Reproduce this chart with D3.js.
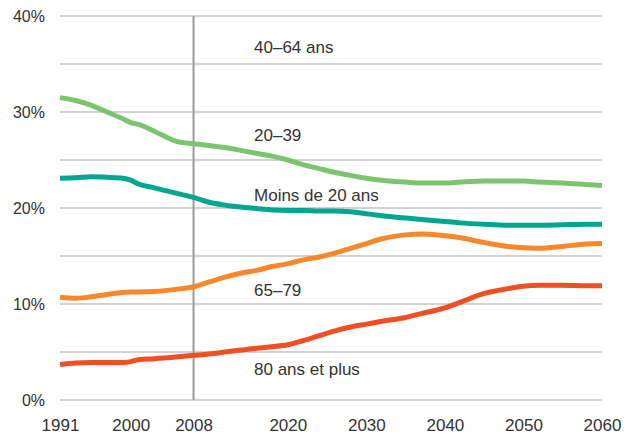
<!DOCTYPE html>
<html>
<head>
<meta charset="utf-8">
<script src="https://cdn.jsdelivr.net/npm/d3@7"></script>
<style>
html,body{margin:0;padding:0;background:#fff;}
svg{display:block;font-family:"Liberation Sans",Arial,sans-serif;}
</style>
</head>
<body>
<svg id="chart" width="634" height="435"></svg>
<script>
const years = [1991,1993,1995,1997,1999,2000,2001,2003,2006,2008,2010,2012,2014,2016,2018,2020,2022,2024,2026,2028,2030,2032,2035,2037,2040,2042,2045,2048,2050,2052,2055,2058,2060];

const age20to39 = [31.5,31.2,30.7,30.0,29.3,28.9,28.7,28.0,26.9,26.7,26.5,26.3,26.0,25.7,25.4,25.0,24.5,24.1,23.7,23.4,23.1,22.9,22.7,22.6,22.6,22.7,22.8,22.8,22.8,22.7,22.6,22.45,22.35];
const under20 = [23.1,23.15,23.25,23.2,23.1,22.9,22.5,22.1,21.5,21.1,20.6,20.3,20.1,19.95,19.8,19.75,19.75,19.7,19.7,19.6,19.4,19.2,18.95,18.8,18.6,18.45,18.3,18.2,18.2,18.2,18.25,18.3,18.3];
const age65to79 = [10.7,10.6,10.75,11.0,11.2,11.25,11.25,11.3,11.55,11.8,12.3,12.8,13.2,13.5,13.9,14.2,14.6,14.9,15.3,15.8,16.3,16.8,17.2,17.3,17.1,16.9,16.4,16.0,15.85,15.8,16.0,16.25,16.3];
const age80plus = [3.7,3.85,3.9,3.9,3.9,4.0,4.2,4.3,4.5,4.65,4.8,5.0,5.2,5.4,5.55,5.75,6.2,6.7,7.2,7.6,7.9,8.2,8.6,9.0,9.6,10.2,11.1,11.6,11.85,11.95,11.95,11.9,11.9];

const xTickYears = [1991,2000,2008,2020,2030,2040,2050,2060];
const yGridValues = [0,5,10,15,20,25,30,35,40];
const yTickLabels = [0,10,20,30,40];
const markerYear = 2008;

const seriesNames = ["20–39","Moins de 20 ans","65–79","80 ans et plus"];
const seriesValues = [age20to39, under20, age65to79, age80plus];
const seriesColors = ["#7cc56f","#00a690","#f7882c","#f04f24"];

const labels = ["40–64 ans","20–39","Moins de 20 ans","65–79","80 ans et plus"];
const labelValues = [36.1, 26.95, 20.7, 10.8, 2.6];

const svg = d3.select("#chart");
const x = d3.scaleLinear().domain([1991,2060]).range([60,602]);
const y = d3.scaleLinear().domain([0,40]).range([400,16]);

// horizontal grid
svg.append("g").selectAll("line").data(yGridValues).join("line")
  .attr("x1", x(1991)).attr("x2", x(2060))
  .attr("y1", d=>y(d)).attr("y2", d=>y(d))
  .attr("stroke","#a3a3a3").attr("stroke-width",1.2);

// 2008 marker line
svg.append("line")
  .attr("x1", x(markerYear)).attr("x2", x(markerYear))
  .attr("y1", y(40)).attr("y2", y(0))
  .attr("stroke","#9a9a9a").attr("stroke-width",2);

// y axis labels
const yAxis = d3.axisLeft(y).tickValues(yTickLabels).tickFormat(d=>d+"%").tickSize(0).tickPadding(0);
const gy = svg.append("g").attr("transform","translate(45,0)").call(yAxis);
gy.select(".domain").remove();
gy.selectAll("text").attr("font-size",16).attr("fill","#333").attr("font-family","Liberation Sans, Arial, sans-serif");

// x axis labels
const xAxis = d3.axisBottom(x).tickValues(xTickYears).tickFormat(d3.format("d")).tickSize(0).tickPadding(0);
const gx = svg.append("g").attr("transform","translate(0,419)").call(xAxis);
gx.select(".domain").remove();
gx.selectAll("text").attr("font-size",17).attr("fill","#333").attr("font-family","Liberation Sans, Arial, sans-serif");

// lines
const line = d3.line().x((d,i)=>x(years[i])).y(d=>y(d)).curve(d3.curveMonotoneX);
svg.append("g").selectAll("path").data(seriesValues).join("path")
  .attr("d", d=>line(d))
  .attr("fill","none")
  .attr("stroke",(d,i)=>seriesColors[i])
  .attr("stroke-width",5)
  .attr("stroke-linejoin","round");

// series labels
svg.append("g").selectAll("text").data(labels).join("text")
  .attr("x", x(2015.7))
  .attr("y", (d,i)=>y(labelValues[i]))
  .attr("font-size",17).attr("fill","#333")
  .text(d=>d);
</script>
</body>
</html>
